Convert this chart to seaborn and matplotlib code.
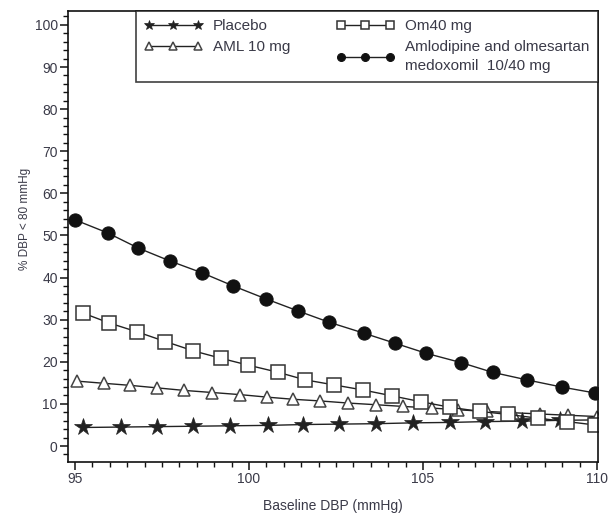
import matplotlib
matplotlib.use("Agg")
import matplotlib.pyplot as plt
from matplotlib.ticker import MultipleLocator
import seaborn as sns
import pandas as pd

# ---- data ----
placebo_x = [95.24, 96.31, 97.37, 98.40, 99.46, 100.56, 101.56, 102.59, 103.66, 104.72,
             105.78, 106.79, 107.85, 108.94, 110.0]
placebo_y = [4.4, 4.5, 4.6, 4.7, 4.8, 4.9, 5.1, 5.2, 5.3, 5.5, 5.6, 5.8, 5.9, 6.1, 6.2]

aml_x = [95.07, 95.82, 96.59, 97.37, 98.14, 98.95, 99.75, 100.53, 101.27, 102.05,
         102.85, 103.66, 104.43, 105.27, 106.01, 106.85, 107.60, 108.37, 109.18, 110.0]
aml_y = [15.4, 14.9, 14.4, 13.8, 13.2, 12.7, 12.2, 11.6, 11.1, 10.7,
         10.2, 9.8, 9.4, 9.0, 8.6, 8.2, 7.9, 7.6, 7.3, 7.0]

olm_x = [95.22, 95.99, 96.79, 97.60, 98.40, 99.21, 99.98, 100.84, 101.62, 102.45,
         103.28, 104.12, 104.95, 105.78, 106.64, 107.45, 108.31, 109.14, 109.94]
olm_y = [31.6, 29.2, 27.1, 24.8, 22.6, 20.8, 19.2, 17.5, 15.7, 14.5,
         13.3, 11.9, 10.5, 9.2, 8.2, 7.5, 6.6, 5.8, 5.0]

combo_x = [95.0, 95.94, 96.82, 97.74, 98.66, 99.55, 100.5, 101.4, 102.3, 103.3,
           104.2, 105.1, 106.1, 107.0, 107.99, 108.99, 109.94]
combo_y = [53.7, 50.6, 47.0, 43.9, 41.1, 38.0, 34.9, 32.1, 29.4, 26.8,
           24.4, 22.0, 19.8, 17.5, 15.7, 14.0, 12.6]

labels = ["Placebo", "AML 10 mg", "Om40 mg",
          "Amlodipine and olmesartan\nmedoxomil  10/40 mg"]
x_ticks = [95, 100, 105, 110]
y_ticks = [0, 10, 20, 30, 40, 50, 60, 70, 80, 90, 100]

sns.set_style("ticks")
plt.rcParams["font.family"] = ["Liberation Sans Narrow", "Liberation Sans", "DejaVu Sans"]

fig = plt.figure(figsize=(6.13, 5.19), dpi=100)
ax = fig.add_axes([0.111, 0.1098, 0.8645, 0.869])

txtc = "#3a3a48"
series = [
    (placebo_x, placebo_y, dict(marker="*", markersize=13, markerfacecolor="#222222",
                                markeredgecolor="#222222", markeredgewidth=0.5)),
    (aml_x, aml_y, dict(marker="^", markersize=9, markerfacecolor="white",
                        markeredgecolor="#444444", markeredgewidth=1.1)),
    (olm_x, olm_y, dict(marker="s", markersize=10, markerfacecolor="white",
                        markeredgecolor="#333333", markeredgewidth=1.1)),
    (combo_x, combo_y, dict(marker="o", markersize=9.5, markerfacecolor="#111111",
                            markeredgecolor="#111111")),
]
handles = []
for (xs, ys, st), lab in zip(series, labels):
    df = pd.DataFrame({"x": xs, "y": ys})
    sns.lineplot(data=df, x="x", y="y", ax=ax, color="#222222", linewidth=1.0,
                 label=lab, legend=False, **st)
    handles.append(ax.lines[-1])

ax.set_xlim(94.8, 110.03)
ax.set_ylim(-3.8, 103.3)
ax.set_xticks(x_ticks)
ax.set_yticks(y_ticks)
ax.xaxis.set_minor_locator(MultipleLocator(0.5))
ax.yaxis.set_minor_locator(MultipleLocator(2))
ax.tick_params(which="major", direction="out", length=6, width=1.1,
               labelsize=10, labelcolor=txtc, color="#111111", pad=1.5)
ax.tick_params(which="minor", direction="out", length=3.5, width=1.0, color="#111111")
for s in ax.spines.values():
    s.set_linewidth(1.2)
    s.set_color("#111111")

ax.set_xlabel("Baseline DBP (mmHg)", fontsize=10, color=txtc)
ax.set_ylabel("% DBP < 80 mmHg", fontsize=8.5, color=txtc)
ax.xaxis.set_label_coords(0.5, -0.082)
ax.yaxis.set_label_coords(-0.07, 0.54)

leg = ax.legend(handles=handles, labels=labels, ncol=2, loc="upper left",
                bbox_to_anchor=(0.128, 0.831, 0.872, 0.169), mode="expand",
                borderaxespad=0, fancybox=False, frameon=True, fontsize=11,
                numpoints=3, handlelength=3.8, markerscale=0.6,
                columnspacing=1.0, handletextpad=0.7, labelspacing=0.45,
                borderpad=0.55)
leg.get_frame().set_edgecolor("#111111")
leg.get_frame().set_linewidth(1.2)
for t in leg.get_texts():
    t.set_color(txtc)
    t.set_linespacing(1.45)

fig.savefig("out.png", dpi=100)
